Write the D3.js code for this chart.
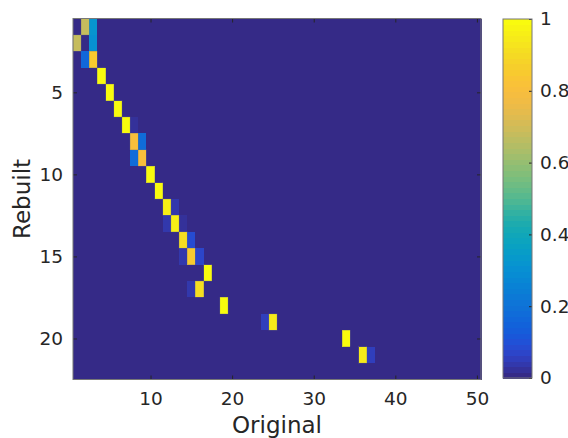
<!DOCTYPE html>
<html>
<head>
<meta charset="utf-8">
<script src="https://cdn.jsdelivr.net/npm/d3@7"></script>
<style>
body { margin: 0; background: #fff; }
text { font-family: "DejaVu Sans", sans-serif; fill: #262626; }
.tick text { font-size: 18.5px; }
.lbl { font-size: 23px; }
</style>
</head>
<body>
<div id="chart"></div>
<script>
// matrix size
var nRows = 22;
var nCols = 50;
// non-zero cells (Rebuilt row, Original column, value)
var cellRow = [1, 1, 2, 2, 3, 3, 4, 5, 6, 7, 7, 8, 8, 9, 9, 10, 11, 12, 12, 13, 13, 13, 14, 14, 15, 15, 15, 16, 17, 17, 18, 19, 19, 20, 21, 21];
var cellCol = [2, 3, 1, 3, 2, 3, 4, 5, 6, 7, 8, 8, 9, 8, 9, 10, 11, 12, 13, 12, 13, 14, 14, 15, 14, 15, 16, 17, 15, 16, 19, 24, 25, 34, 36, 37];
var cellVal = [0.68, 0.32, 0.68, 0.30, 0.16, 0.85, 1, 1, 1, 1, 0.03, 0.81, 0.18, 0.18, 0.81, 1, 1, 0.96, 0.04, 0.04, 0.96, 0.03, 0.91, 0.08, 0.04, 0.85, 0.07, 1, 0.04, 0.92, 1, 0.05, 0.95, 1, 0.94, 0.05];
var xTicks = [10, 20, 30, 40, 50];
var yTicks = [5, 10, 15, 20];
var cbTicks = [0, 0.2, 0.4, 0.6, 0.8, 1];

// parula (every 4th of the 64 entries)
var parulaStops = ["#352a87", "#3145d3", "#0f5ddd", "#1270d7", "#0781d5", "#0794d3",
	"#07a4bf", "#1cacad", "#55b98f", "#7cbf7b", "#a5be6b", "#c8bc5c", "#e9ba4b",
	"#fdbd3c", "#f5ce2a", "#f5e41e", "#f9fb0e"];
var nColors = 64;
var interp = d3.interpolateRgbBasis(parulaStops);
function parula(v) {
	var k = Math.min(nColors - 1, Math.floor(v * nColors));
	return interp(k / (nColors - 1));
}

var width = 568, height = 438;
var svg = d3.select("#chart").append("svg").attr("width", width).attr("height", height);

var x = d3.scaleLinear().domain([0.5, nCols + 0.5]).range([73, 481]);
var y = d3.scaleLinear().domain([0.5, nRows + 0.5]).range([18.5, 379.5]);

// full matrix from the non-zero list
var cells = [];
for (var r = 1; r <= nRows; r++)
	for (var c = 1; c <= nCols; c++)
		cells.push({r: r, c: c, v: 0});
cellRow.forEach(function(r, i) {
	cells[(r - 1) * nCols + (cellCol[i] - 1)].v = cellVal[i];
});

svg.append("g").attr("shape-rendering", "crispEdges")
	.selectAll("rect").data(cells).enter().append("rect")
	.attr("x", function(d) { return x(d.c - 0.5); })
	.attr("y", function(d) { return y(d.r - 0.5); })
	.attr("width", x(1.5) - x(0.5) + 0.5)
	.attr("height", y(1.5) - y(0.5) + 0.5)
	.attr("fill", function(d) { return parula(d.v); });

// faint edges round the lit cells
svg.append("g").selectAll("rect").data(cells.filter(function(d) { return d.v > 0.5; })).enter().append("rect")
	.attr("x", function(d) { return x(d.c - 0.5); })
	.attr("y", function(d) { return y(d.r - 0.5); })
	.attr("width", x(1.5) - x(0.5))
	.attr("height", y(1.5) - y(0.5))
	.attr("fill", "none").attr("stroke", "#777").attr("stroke-opacity", 0.5).attr("stroke-width", 0.6);

// axes, ticks inward and mirrored
var tl = 4;
svg.append("g").attr("transform", "translate(0," + y.range()[1] + ")")
	.call(d3.axisBottom(x).tickValues(xTicks).tickSize(-tl).tickPadding(12.5));
svg.append("g").attr("transform", "translate(0," + y.range()[0] + ")")
	.call(d3.axisTop(x).tickValues(xTicks).tickSize(-tl).tickFormat(""));
svg.append("g").attr("transform", "translate(" + x.range()[0] + ",0)")
	.call(d3.axisLeft(y).tickValues(yTicks).tickSize(-tl).tickPadding(10));
svg.append("g").attr("transform", "translate(" + x.range()[1] + ",0)")
	.call(d3.axisRight(y).tickValues(yTicks).tickSize(-tl).tickFormat(""));
svg.selectAll(".domain").remove();
svg.selectAll(".tick line").attr("stroke", "#262626");
svg.append("rect").attr("x", x.range()[0]).attr("y", y.range()[0])
	.attr("width", x.range()[1] - x.range()[0]).attr("height", y.range()[1] - y.range()[0])
	.attr("fill", "none").attr("stroke", "#777");

svg.append("text").attr("class", "lbl").attr("x", (x.range()[0] + x.range()[1]) / 2).attr("y", 433)
	.attr("text-anchor", "middle").text("Original");
svg.append("text").attr("class", "lbl")
	.attr("transform", "translate(30," + (y.range()[0] + y.range()[1]) / 2 + ") rotate(-90)")
	.attr("text-anchor", "middle").text("Rebuilt");

// colorbar
var cb = d3.scaleLinear().domain([0, 1]).range([378, 19]);
var cbX = 503, cbW = 29;
svg.append("g").attr("shape-rendering", "crispEdges")
	.selectAll("rect").data(d3.range(nColors)).enter().append("rect")
	.attr("x", cbX)
	.attr("y", function(k) { return cb((k + 1) / nColors); })
	.attr("width", cbW)
	.attr("height", cb(0) - cb(1 / nColors) + 0.5)
	.attr("fill", function(k) { return parula((k + 0.5) / nColors); });
svg.append("g").attr("transform", "translate(" + (cbX + cbW) + ",0)")
	.call(d3.axisRight(cb).tickValues(cbTicks).tickSize(-3).tickPadding(8).tickFormat(d3.format("~g")))
	.select(".domain").remove();
svg.selectAll(".tick line").attr("stroke", "#262626");
svg.append("rect").attr("x", cbX).attr("y", cb(1)).attr("width", cbW).attr("height", cb(0) - cb(1))
	.attr("fill", "none").attr("stroke", "#777");
</script>
</body>
</html>
